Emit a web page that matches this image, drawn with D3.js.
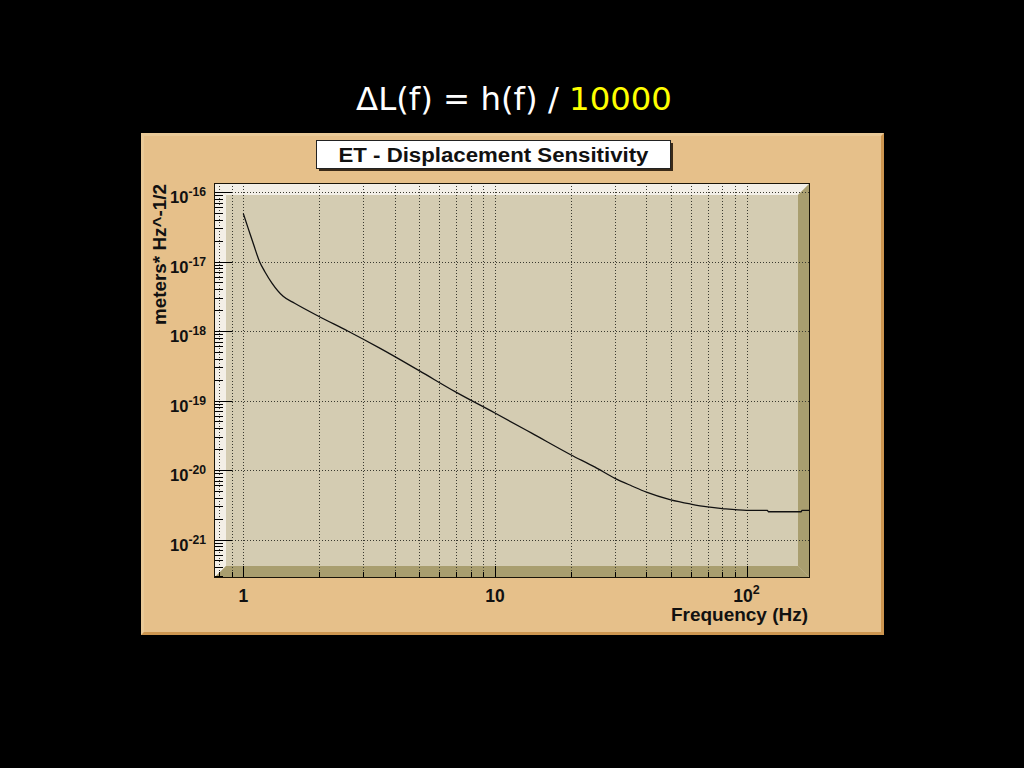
<!DOCTYPE html>
<html>
<head>
<meta charset="utf-8">
<script src="https://cdn.jsdelivr.net/npm/d3@7"></script>
<style>
  html, body { margin: 0; padding: 0; background: #000; }
  svg { display: block; }
</style>
</head>
<body>
<svg id="chart" width="1024" height="768"></svg>
<script>
// ---- data ----
const titleMain = "\u0394L(f) = h(f) / ";
const titleScale = "10000";
const panelTitle = "ET - Displacement Sensitivity";
const xAxisTitle = "Frequency (Hz)";
const yAxisTitle = "meters* Hz^-1/2";

const frequencyHz = [1.0, 1.05, 1.1, 1.16, 1.22, 1.3, 1.44, 1.6, 2.0, 2.6, 3.5, 5, 7, 10, 14, 20, 25, 30, 35, 40, 50, 60, 70, 80, 100, 121, 122, 165, 166, 178.7];
const displacement = [4.90e-17, 2.88e-17, 1.74e-17, 1.00e-17, 7.08e-18, 4.90e-18, 3.16e-18, 2.51e-18, 1.62e-18, 1.00e-18, 5.62e-19, 2.69e-19, 1.32e-19, 6.61e-20, 3.39e-20, 1.66e-20, 1.10e-20, 7.59e-21, 5.89e-21, 4.79e-21, 3.72e-21, 3.24e-21, 2.95e-21, 2.79e-21, 2.63e-21, 2.63e-21, 2.51e-21, 2.51e-21, 2.63e-21, 2.63e-21];

const xDomain = [0.765, 178.7];
const yDomain = [Math.pow(10, -21.554), Math.pow(10, -15.87)];
const xMajorTicks = [1, 10, 100];
const xMajorLabels = [["1", ""], ["10", ""], ["10", "2"]];
const yMajorExps = [-21, -20, -19, -18, -17, -16];

// ---- layout ----
const svg = d3.select("#chart");
const FL = 214, FR = 810, FT = 183, FB = 578, BEV = 12;
const x = d3.scaleLog().domain(xDomain).range([FL, FR]);
const y = d3.scaleLog().domain(yDomain).range([FB, FT]);

// main title
const tTitle = svg.append("text")
  .attr("x", 514).attr("y", 109.5)
  .attr("text-anchor", "middle")
  .style("font-family", "'DejaVu Sans', sans-serif")
  .style("font-size", "30px");
tTitle.append("tspan").attr("fill", "#ffffff").text(titleMain);
tTitle.append("tspan").attr("fill", "#ffff00").text(titleScale);
{
  const w = tTitle.node().getComputedTextLength();
  const fs = 30 * 316 / w;
  tTitle.style("font-size", fs + "px");
}

// canvas panel
const PL = 141, PR = 884, PT = 133, PB = 635, PB_ = 3;
svg.append("rect").attr("x", PL).attr("y", PT).attr("width", PR - PL).attr("height", PB - PT).attr("fill", "#E6C08A");
svg.append("polygon").attr("fill", "#EACA98")
  .attr("points", [[PL, PT], [PR, PT], [PR - PB_, PT + PB_], [PL + PB_, PT + PB_], [PL + PB_, PB - PB_], [PL, PB]].join(" "));
svg.append("polygon").attr("fill", "#CD9650")
  .attr("points", [[PR, PT], [PR, PB], [PL, PB], [PL + PB_, PB - PB_], [PR - PB_, PB - PB_], [PR - PB_, PT + PB_]].join(" "));

// frame with 3D bevel
const frame = svg.append("g");
frame.append("rect").attr("x", FL).attr("y", FT).attr("width", FR - FL).attr("height", FB - FT).attr("fill", "#D4CCB2");
frame.append("polygon").attr("fill", "#F3EFE7")
  .attr("points", [[FL, FT], [FR, FT], [FR - BEV, FT + BEV], [FL + BEV, FT + BEV]].join(" "));
frame.append("polygon").attr("fill", "#F3EFE7")
  .attr("points", [[FL, FT], [FL + BEV, FT + BEV], [FL + BEV, FB - BEV], [FL, FB]].join(" "));
frame.append("polygon").attr("fill", "#A99E6F")
  .attr("points", [[FR, FT], [FR, FB], [FR - BEV, FB - BEV], [FR - BEV, FT + BEV]].join(" "));
frame.append("polygon").attr("fill", "#A99E6F")
  .attr("points", [[FL, FB], [FL + BEV, FB - BEV], [FR - BEV, FB - BEV], [FR, FB]].join(" "));

// tick value lists
const xAllTicks = [];
for (let e = -1; e <= 2; e++) for (let m = 1; m <= 9; m++) {
  const v = m * Math.pow(10, e);
  if (v >= xDomain[0] && v <= xDomain[1]) xAllTicks.push(v);
}
const yMinorTicks = [];
for (let e = -22; e <= -16; e++) for (let m = 2; m <= 9; m++) {
  const v = m * Math.pow(10, e);
  if (v >= yDomain[0] && v <= yDomain[1]) yMinorTicks.push(v);
}

// grid
const grid = svg.append("g").attr("stroke", "#3a3a30").attr("stroke-width", 1).attr("stroke-dasharray", "1,2");
grid.selectAll("line.gx").data(xAllTicks).join("line")
  .attr("x1", d => Math.round(x(d)) + 0.5).attr("x2", d => Math.round(x(d)) + 0.5)
  .attr("y1", FT).attr("y2", FB);
grid.selectAll("line.gy").data(yMajorExps).join("line")
  .attr("y1", d => Math.round(y(Math.pow(10, d))) + 0.5).attr("y2", d => Math.round(y(Math.pow(10, d))) + 0.5)
  .attr("x1", FL).attr("x2", FR);

// curve
const line = d3.line().x(d => x(d[0])).y(d => y(d[1])).curve(d3.curveMonotoneX);
svg.append("path")
  .datum(frequencyHz.map((f, i) => [f, displacement[i]]))
  .attr("fill", "none").attr("stroke", "#111").attr("stroke-width", 1.3)
  .attr("d", line);

// ticks
const ticks = svg.append("g").attr("stroke", "#000").attr("stroke-width", 1);
ticks.selectAll("line.tx").data(xAllTicks).join("line")
  .attr("x1", d => Math.round(x(d)) + 0.5).attr("x2", d => Math.round(x(d)) + 0.5)
  .attr("y1", FB).attr("y2", d => FB - (xMajorTicks.includes(d) ? 12 : 6));
ticks.selectAll("line.ty").data(yMajorExps).join("line")
  .attr("y1", d => Math.round(y(Math.pow(10, d))) + 0.5).attr("y2", d => Math.round(y(Math.pow(10, d))) + 0.5)
  .attr("x1", FL).attr("x2", FL + 18);
ticks.selectAll("line.tym").data(yMinorTicks).join("line")
  .attr("y1", d => Math.round(y(d)) + 0.5).attr("y2", d => Math.round(y(d)) + 0.5)
  .attr("x1", FL).attr("x2", FL + 9);

// frame outline
svg.append("rect").attr("x", FL + 0.5).attr("y", FT + 0.5).attr("width", FR - FL - 1).attr("height", FB - FT - 1)
  .attr("fill", "none").attr("stroke", "#1a1408").attr("stroke-width", 1);

// tick labels
const labelFont = "'Liberation Sans', Arial, sans-serif";
const xl = svg.append("g").style("font-family", labelFont).style("font-weight", "bold").attr("fill", "#111");
xMajorTicks.forEach((v, i) => {
  const t = xl.append("text").attr("x", x(v)).attr("y", 602).attr("text-anchor", "middle").style("font-size", "17.5px");
  t.append("tspan").text(xMajorLabels[i][0]);
  if (xMajorLabels[i][1]) t.append("tspan").attr("dy", -8).style("font-size", "12.5px").text(xMajorLabels[i][1]);
});
yMajorExps.forEach(e => {
  const ty = y(Math.pow(10, e));
  const t = xl.append("text").attr("x", 206).attr("y", ty + 11).attr("text-anchor", "end").style("font-size", "16.5px");
  t.append("tspan").text("10");
  t.append("tspan").attr("dy", -7).style("font-size", "12.2px").text(String(e));
});

// axis titles
xl.append("text").attr("x", 808).attr("y", 621).attr("text-anchor", "end").style("font-size", "18.5px")
  .attr("textLength", 137).attr("lengthAdjust", "spacingAndGlyphs").text(xAxisTitle);
xl.append("text").attr("transform", "translate(166,184) rotate(-90)").attr("text-anchor", "end").style("font-size", "17.5px")
  .attr("textLength", 141).attr("lengthAdjust", "spacingAndGlyphs").text(yAxisTitle);

// pave title box
svg.append("rect").attr("x", 319).attr("y", 143).attr("width", 354).attr("height", 28).attr("fill", "#3a2a18");
svg.append("rect").attr("x", 316.5).attr("y", 140.5).attr("width", 354).attr("height", 28).attr("fill", "#fff").attr("stroke", "#222").attr("stroke-width", 1);
svg.append("text").attr("x", 493.5).attr("y", 161.5).attr("text-anchor", "middle")
  .style("font-family", labelFont).style("font-weight", "bold").style("font-size", "19.5px").attr("fill", "#111")
  .attr("textLength", 310).attr("lengthAdjust", "spacingAndGlyphs")
  .text(panelTitle);
</script>
</body>
</html>
